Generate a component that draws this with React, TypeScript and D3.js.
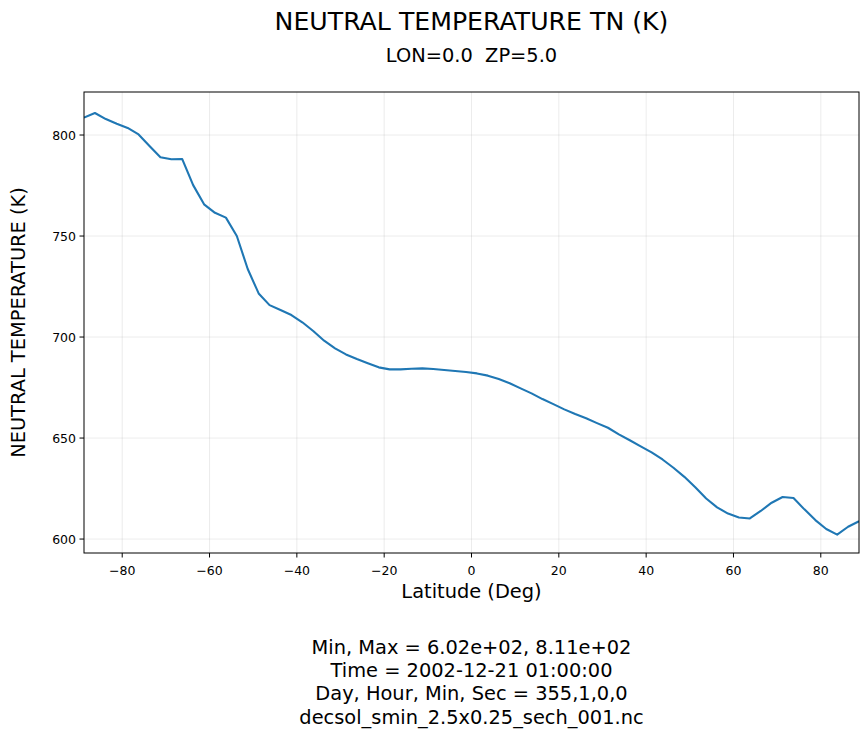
import React, { useMemo } from 'react';
import * as d3 from 'd3';

// latitude grid (2.5 deg) and neutral temperature
const latitudes: number[] = [
  -88.75, -86.25, -83.75, -81.25, -78.75, -76.25, -73.75, -71.25, -68.75, -66.25,
  -63.75, -61.25, -58.75, -56.25, -53.75, -51.25, -48.75, -46.25, -43.75, -41.25,
  -38.75, -36.25, -33.75, -31.25, -28.75, -26.25, -23.75, -21.25, -18.75, -16.25,
  -13.75, -11.25, -8.75, -6.25, -3.75, -1.25, 1.25, 3.75, 6.25, 8.75,
  11.25, 13.75, 16.25, 18.75, 21.25, 23.75, 26.25, 28.75, 31.25, 33.75,
  36.25, 38.75, 41.25, 43.75, 46.25, 48.75, 51.25, 53.75, 56.25, 58.75,
  61.25, 63.75, 66.25, 68.75, 71.25, 73.75, 76.25, 78.75, 81.25, 83.75,
  86.25, 88.75
];

const temperature: number[] = [
  808.6, 810.9, 807.9, 805.6, 803.5, 800.3, 794.6, 789.0, 788.0, 788.1,
  775.2, 765.7, 761.5, 759.1, 750.0, 733.7, 721.6, 715.8, 713.4, 710.9,
  707.3, 703.0, 698.2, 694.4, 691.4, 689.1, 687.0, 685.0, 684.0, 684.0,
  684.3, 684.5, 684.2, 683.7, 683.2, 682.7, 682.0, 680.9, 679.2, 677.1,
  674.6, 672.1, 669.3, 666.8, 664.2, 661.9, 659.8, 657.4, 655.1, 651.8,
  648.9, 645.9, 642.9, 639.4, 635.3, 630.8, 625.6, 620.1, 615.7, 612.6,
  610.7, 610.2, 613.9, 618.0, 620.8, 620.3, 614.7, 609.4, 605.0, 602.2,
  606.1, 608.8
];

const xTicks: number[] = [-80, -60, -40, -20, 0, 20, 40, 60, 80];
const yTicks: number[] = [600, 650, 700, 750, 800];
const yDomain: number[] = [593.1, 821.3];

const footerLines: string[] = [
  'Min, Max = 6.02e+02, 8.11e+02',
  'Time = 2002-12-21 01:00:00',
  'Day, Hour, Min, Sec = 355,1,0,0',
  'decsol_smin_2.5x0.25_sech_001.nc'
];

const width = 868;
const height = 736;
const plot = { left: 84, right: 859, top: 92, bottom: 553 };
const font = '"DejaVu Sans", sans-serif';

export default function App() {
  const { xScale, yScale, linePath } = useMemo(() => {
    const xScale = d3.scaleLinear()
      .domain([latitudes[0], latitudes[latitudes.length - 1]])
      .range([plot.left, plot.right]);

    const yScale = d3.scaleLinear()
      .domain(yDomain)
      .range([plot.bottom, plot.top]);

    const line = d3.line<number>()
      .x((_, i) => xScale(latitudes[i]))
      .y(d => yScale(d));

    return { xScale, yScale, linePath: line(temperature) };
  }, []);

  const midX = (plot.left + plot.right) / 2;

  return (
    <svg
      width={width}
      height={height}
      style={{ position: 'absolute', left: 0, top: 0, background: '#fff', fontFamily: font }}
    >
      <rect x={0} y={0} width={width} height={height} fill="#fff" />

      {/* Titles */}
      <text x={midX} y={30} textAnchor="middle" fontSize={25.2} fill="#000">
        NEUTRAL TEMPERATURE TN (K)
      </text>
      <text x={midX} y={61.5} textAnchor="middle" fontSize={19.4} fill="#000" style={{ whiteSpace: 'pre' }}>
        {'LON=0.0  ZP=5.0'}
      </text>

      {/* Grid */}
      {xTicks.map(t => (
        <line key={`gx-${t}`} x1={xScale(t)} x2={xScale(t)} y1={plot.top} y2={plot.bottom}
          stroke="#b0b0b0" strokeOpacity={0.3} strokeWidth={0.8} />
      ))}
      {yTicks.map(t => (
        <line key={`gy-${t}`} x1={plot.left} x2={plot.right} y1={yScale(t)} y2={yScale(t)}
          stroke="#b0b0b0" strokeOpacity={0.3} strokeWidth={0.8} />
      ))}

      {/* Data line */}
      <defs>
        <clipPath id="plot-clip">
          <rect x={plot.left} y={plot.top} width={plot.right - plot.left} height={plot.bottom - plot.top} />
        </clipPath>
      </defs>
      <path d={linePath ?? ''} fill="none" stroke="#1f77b4" strokeWidth={2.1}
        strokeLinejoin="round" strokeLinecap="butt" clipPath="url(#plot-clip)" />

      {/* Frame */}
      <rect x={plot.left} y={plot.top} width={plot.right - plot.left} height={plot.bottom - plot.top}
        fill="none" stroke="#000" strokeWidth={1} />

      {/* X ticks */}
      {xTicks.map(t => (
        <g key={`xt-${t}`} transform={`translate(${xScale(t)}, ${plot.bottom})`}>
          <line y1={0} y2={4.5} stroke="#000" strokeWidth={1} />
          <text y={21.5} textAnchor="middle" fontSize={12.5} fill="#000">
            {t < 0 ? `\u2212${Math.abs(t)}` : t}
          </text>
        </g>
      ))}

      {/* Y ticks */}
      {yTicks.map(t => (
        <g key={`yt-${t}`} transform={`translate(${plot.left}, ${yScale(t)})`}>
          <line x1={0} x2={-4.5} stroke="#000" strokeWidth={1} />
          <text x={-8} y={4.5} textAnchor="end" fontSize={12.5} fill="#000">{t}</text>
        </g>
      ))}

      {/* Axis labels */}
      <text x={midX} y={598} textAnchor="middle" fontSize={19.4} fill="#000">Latitude (Deg)</text>
      <text transform={`translate(25, ${(plot.top + plot.bottom) / 2}) rotate(-90)`}
        textAnchor="middle" fontSize={19.4} fill="#000">
        NEUTRAL TEMPERATURE (K)
      </text>

      {/* Footer */}
      {footerLines.map((s, i) => (
        <text key={i} x={midX} y={654 + i * 23.2} textAnchor="middle" fontSize={19.4} fill="#000">{s}</text>
      ))}
    </svg>
  );
}
